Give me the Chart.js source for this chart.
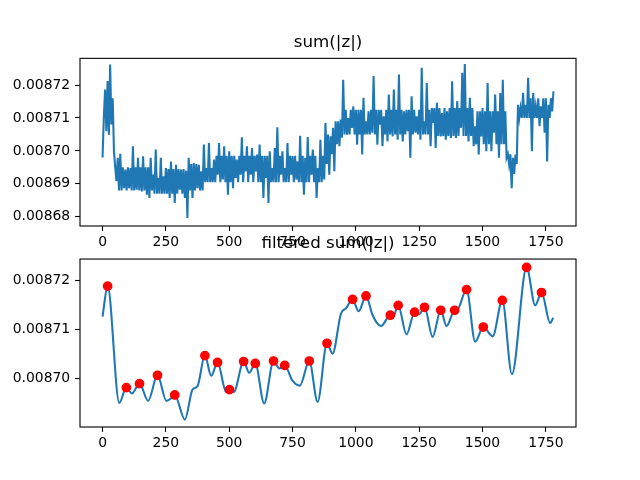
<!DOCTYPE html>
<html>
<head>
<meta charset="utf-8">
<script src="https://cdn.jsdelivr.net/npm/chart.js@4.4.1/dist/chart.umd.min.js"></script>
<style>
  html, body { margin: 0; padding: 0; background: #fff; }
  #wrap { position: relative; width: 640px; height: 480px; overflow: hidden; }
  canvas { position: absolute; left: 0; }
  #rawChart { top: 0; }
  #filtChart { top: 230px; }
</style>
</head>
<body>
<div id="wrap">
  <canvas id="rawChart" width="640" height="260"></canvas>
  <canvas id="filtChart" width="640" height="230"></canvas>
</div>
<script>
// raw sum(|z|), read every 5 samples off the picture (upper / lower edge of the noise band)
const rawStep = 5;
const rawValues = [
  0.0086980, 0.0087100, 0.0087186, 0.0087060, 0.0087212, 0.0087049, 0.0087262, 0.0087080, 0.0087160, 0.0087000,
  0.0086950, 0.0086908, 0.0086979, 0.0086880, 0.0086991, 0.0086880, 0.0086950, 0.0086887, 0.0086943, 0.0086880,
  0.0086950, 0.0086887, 0.0086948, 0.0086880, 0.0087014, 0.0086880, 0.0086950, 0.0086882, 0.0086979, 0.0086880,
  0.0086950, 0.0086877, 0.0086984, 0.0086880, 0.0086950, 0.0086867, 0.0086950, 0.0086857, 0.0086979, 0.0086880,
  0.0086928, 0.0086870, 0.0087004, 0.0086870, 0.0086918, 0.0086870, 0.0086979, 0.0086870, 0.0086923, 0.0086870,
  0.0086948, 0.0086870, 0.0086945, 0.0086857, 0.0086968, 0.0086870, 0.0086945, 0.0086842, 0.0086958, 0.0086870,
  0.0086945, 0.0086882, 0.0086943, 0.0086870, 0.0086945, 0.0086857, 0.0086940, 0.0086796, 0.0086979, 0.0086880,
  0.0086960, 0.0086857, 0.0086963, 0.0086880, 0.0086960, 0.0086887, 0.0086958, 0.0086880, 0.0086938, 0.0086880,
  0.0087019, 0.0086905, 0.0086948, 0.0086905, 0.0087024, 0.0086905, 0.0086948, 0.0086905, 0.0086974, 0.0086905,
  0.0086985, 0.0086928, 0.0087024, 0.0086905, 0.0086985, 0.0086913, 0.0087014, 0.0086905, 0.0086985, 0.0086867,
  0.0086999, 0.0086905, 0.0086985, 0.0086887, 0.0086985, 0.0086918, 0.0086974, 0.0086905, 0.0086985, 0.0086928,
  0.0087041, 0.0086905, 0.0086985, 0.0086938, 0.0087014, 0.0086905, 0.0086985, 0.0086928, 0.0087009, 0.0086905,
  0.0086985, 0.0086938, 0.0086989, 0.0086905, 0.0087019, 0.0086905, 0.0086985, 0.0086857, 0.0086985, 0.0086918,
  0.0086985, 0.0086842, 0.0086999, 0.0086905, 0.0086948, 0.0086905, 0.0087009, 0.0086905, 0.0087072, 0.0086905,
  0.0086985, 0.0086928, 0.0086999, 0.0086905, 0.0086948, 0.0086905, 0.0087024, 0.0086905, 0.0086985, 0.0086928,
  0.0086984, 0.0086905, 0.0086985, 0.0086913, 0.0086968, 0.0086905, 0.0087046, 0.0086905, 0.0086985, 0.0086867,
  0.0086979, 0.0086905, 0.0087042, 0.0086905, 0.0086985, 0.0086928, 0.0087004, 0.0086905, 0.0086985, 0.0086857,
  0.0086948, 0.0086905, 0.0087034, 0.0086905, 0.0086985, 0.0086913, 0.0087085, 0.0086960, 0.0087050, 0.0086928,
  0.0087044, 0.0086990, 0.0087070, 0.0086938, 0.0087090, 0.0087020, 0.0087090, 0.0087014, 0.0087095, 0.0087040,
  0.0087216, 0.0087050, 0.0087125, 0.0087049, 0.0087100, 0.0087050, 0.0087125, 0.0087070, 0.0087135, 0.0087050,
  0.0087125, 0.0087019, 0.0087125, 0.0087050, 0.0087125, 0.0086989, 0.0087161, 0.0087050, 0.0087090, 0.0087050,
  0.0087120, 0.0087050, 0.0087125, 0.0087055, 0.0087227, 0.0087050, 0.0087125, 0.0087019, 0.0087125, 0.0087080,
  0.0087125, 0.0087014, 0.0087105, 0.0087050, 0.0087125, 0.0087029, 0.0087171, 0.0087050, 0.0087125, 0.0087044,
  0.0087186, 0.0087050, 0.0087125, 0.0087034, 0.0087232, 0.0087050, 0.0087125, 0.0087029, 0.0087120, 0.0087050,
  0.0087125, 0.0087060, 0.0087125, 0.0086979, 0.0087166, 0.0087050, 0.0087125, 0.0087055, 0.0087105, 0.0087050,
  0.0087125, 0.0087034, 0.0087252, 0.0087050, 0.0087090, 0.0087050, 0.0087206, 0.0087050, 0.0087125, 0.0087014,
  0.0087130, 0.0087085, 0.0087130, 0.0087009, 0.0087146, 0.0087045, 0.0087130, 0.0087044, 0.0087115, 0.0087045,
  0.0087130, 0.0087034, 0.0087120, 0.0087045, 0.0087130, 0.0087039, 0.0087211, 0.0087045, 0.0087130, 0.0087039,
  0.0087151, 0.0087045, 0.0087130, 0.0087070, 0.0087237, 0.0087045, 0.0087264, 0.0087045, 0.0087130, 0.0087029,
  0.0087161, 0.0087045, 0.0087130, 0.0087014, 0.0087075, 0.0087020, 0.0087120, 0.0086989, 0.0087120, 0.0087044,
  0.0087130, 0.0087020, 0.0087120, 0.0086999, 0.0087206, 0.0087020, 0.0087120, 0.0086999, 0.0087120, 0.0087055,
  0.0087171, 0.0087020, 0.0087120, 0.0086979, 0.0087176, 0.0087020, 0.0087216, 0.0087020, 0.0087120, 0.0086979,
  0.0086990, 0.0086958, 0.0086990, 0.0086887, 0.0086979, 0.0086930, 0.0086989, 0.0086960, 0.0087140, 0.0087100,
  0.0087130, 0.0087100, 0.0087176, 0.0087100, 0.0087140, 0.0087100, 0.0087222, 0.0087100, 0.0087160, 0.0086999,
  0.0087176, 0.0087100, 0.0087135, 0.0087100, 0.0087160, 0.0087075, 0.0087135, 0.0087100, 0.0087160, 0.0087055,
  0.0087160, 0.0086968, 0.0087140, 0.0087100, 0.0087160, 0.0087120, 0.0087181
];

// filtered curve, key points (sample index / value)
const filtX = [0, 20, 66, 94, 116, 146, 180, 217, 252, 270, 285, 325, 355, 375, 404, 429, 454, 488, 501, 518,
  557, 579, 603, 638, 675, 698, 719, 750, 779, 816, 849, 886, 908, 941, 961, 987, 1011, 1040, 1066, 1099,
  1136, 1147, 1167, 1200, 1232, 1250, 1271, 1303, 1335, 1358, 1390, 1398, 1437, 1471, 1503, 1540, 1578, 1616, 1674, 1708,
  1733, 1767, 1779];
const filtY = [0.0087126, 0.0087188, 0.0086951, 0.0086982, 0.0086970, 0.0086990, 0.0086955, 0.0087007, 0.0086955, 0.0086960,
  0.0086967, 0.0086917, 0.0086978, 0.0086985, 0.0087047, 0.0087006, 0.0087033, 0.0086973, 0.0086978, 0.0086973,
  0.0087035, 0.0087012, 0.0087031, 0.0086950, 0.0087036, 0.0087021, 0.0087027, 0.0086996, 0.0086986, 0.0087036,
  0.0086953, 0.0087072, 0.0087051, 0.0087132, 0.0087143, 0.0087161, 0.0087137, 0.0087168, 0.0087129, 0.0087107,
  0.0087129, 0.0087126, 0.0087149, 0.0087090, 0.0087135, 0.0087131, 0.0087145, 0.0087085, 0.0087139, 0.0087107,
  0.0087139, 0.0087138, 0.0087181, 0.0087075, 0.0087105, 0.0087086, 0.0087159, 0.0087009, 0.0087226, 0.0087149,
  0.0087175, 0.0087113, 0.0087124];

// detected peaks (red dots)
const peakX = [20, 94, 146, 217, 285, 404, 454, 501, 557, 603, 675, 719, 816, 886,
  987, 1040, 1136, 1167, 1232, 1271, 1335, 1390, 1437, 1503, 1578, 1674, 1733];
const peakY = [0.0087188, 0.0086982, 0.0086990, 0.0087007, 0.0086967, 0.0087047, 0.0087033, 0.0086978, 0.0087035,
  0.0087031, 0.0087036, 0.0087027, 0.0087036, 0.0087072, 0.0087161, 0.0087168, 0.0087129, 0.0087149, 0.0087135,
  0.0087145, 0.0087139, 0.0087139, 0.0087181, 0.0087105, 0.0087159, 0.0087226, 0.0087175];

const xTicks = [0, 250, 500, 750, 1000, 1250, 1500, 1750];
const yTicksRaw = [0.00868, 0.00869, 0.00870, 0.00871, 0.00872];
const yTicksFilt = [0.00870, 0.00871, 0.00872];

const BLUE = '#1f77b4';
const FONT = 'DejaVu Sans';

// axes box on all four sides, like matplotlib spines
const framePlugin = {
  id: 'frame',
  afterDraw(chart) {
    const {ctx, chartArea: a} = chart;
    ctx.save();
    ctx.strokeStyle = '#000';
    ctx.lineWidth = 1.1;
    ctx.strokeRect(a.left, a.top, a.right - a.left, a.bottom - a.top);
    ctx.restore();
  }
};

const makeScales = (yMin, yMax, yTicks, xHeight) => ({
  x: {
    type: 'linear',
    min: -89,
    max: 1869,
    afterBuildTicks: (scale) => { scale.ticks = xTicks.map(value => ({value})); },
    afterFit: (scale) => { scale.height = xHeight; },
    border: { display: false },
    grid: { drawOnChartArea: false, drawTicks: true, tickLength: 4.9, tickColor: '#000', tickWidth: 1.1 },
    ticks: { color: '#000', padding: 3, maxRotation: 0, font: { family: FONT, size: 13.9 }, callback: v => String(v) }
  },
  y: {
    type: 'linear',
    min: yMin,
    max: yMax,
    afterBuildTicks: (scale) => { scale.ticks = yTicks.map(value => ({value})); },
    afterFit: (scale) => { scale.width = 80; },
    border: { display: false },
    grid: { drawOnChartArea: false, drawTicks: true, tickLength: 4.9, tickColor: '#000', tickWidth: 1.1 },
    ticks: { color: '#000', padding: 4.9, font: { family: FONT, size: 13.9 }, callback: v => v.toFixed(5) }
  }
});

const makeTitle = (text, padTop, padBottom) => ({
  display: true,
  text: text,
  color: '#000',
  fullSize: false,
  font: { family: FONT, size: 16.7, weight: 'normal', lineHeight: 1.2 },
  padding: { top: padTop, bottom: padBottom }
});

const rawConfig = {
  type: 'line',
  data: {
    datasets: [{
      data: rawValues.map((v, k) => ({x: k * rawStep, y: v})),
      borderColor: BLUE,
      borderWidth: 2.08,
      pointRadius: 0,
      tension: 0
    }]
  },
  options: {
    responsive: false,
    animation: false,
    layout: { padding: { left: 0, right: 64, top: 0, bottom: 0 } },
    plugins: { legend: { display: false }, tooltip: { enabled: false }, title: makeTitle('sum(|z|)', 33, 5.3) },
    scales: makeScales(0.0086772, 0.0087281, yTicksRaw, 34)
  },
  plugins: [framePlugin]
};

const filtConfig = {
  type: 'line',
  data: {
    datasets: [{
      type: 'scatter',
      data: peakX.map((x, k) => ({x: x, y: peakY[k]})),
      backgroundColor: '#ff0000',
      borderColor: '#ff0000',
      borderWidth: 1.39,
      pointRadius: 4.17,
      showLine: false,
      order: 0
    }, {
      data: filtX.map((x, k) => ({x: x, y: filtY[k]})),
      borderColor: BLUE,
      borderWidth: 2.08,
      pointRadius: 0,
      cubicInterpolationMode: 'monotone',
      order: 1
    }]
  },
  options: {
    responsive: false,
    animation: false,
    layout: { padding: { left: 0, right: 64, top: 0, bottom: 0 } },
    plugins: { legend: { display: false }, tooltip: { enabled: false }, title: makeTitle('filtered sum(|z|)', 4, 5) },
    scales: makeScales(0.0086902, 0.0087243, yTicksFilt, 33)
  },
  plugins: [framePlugin]
};

new Chart(document.getElementById('rawChart'), rawConfig);
new Chart(document.getElementById('filtChart'), filtConfig);
</script>
</body>
</html>
